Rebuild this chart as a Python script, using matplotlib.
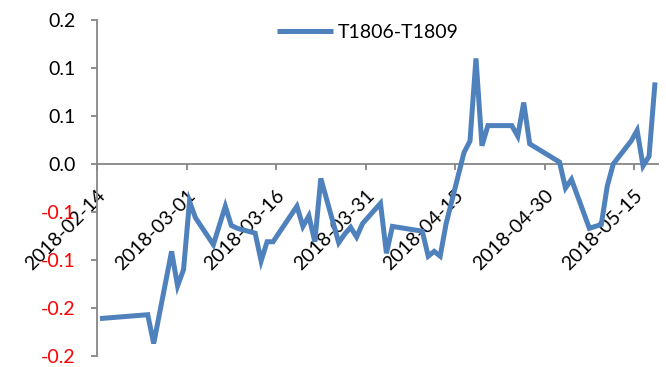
import datetime as dt

import matplotlib
matplotlib.use("Agg")
from matplotlib import pyplot as plt

# spread between T1806 and T1809, one value per trading day
dates = [
    "2018-02-14", "2018-02-22", "2018-02-23", "2018-02-26", "2018-02-27", "2018-02-28",
    "2018-03-01", "2018-03-02", "2018-03-05", "2018-03-07", "2018-03-08", "2018-03-09",
    "2018-03-12", "2018-03-13", "2018-03-14", "2018-03-15", "2018-03-19", "2018-03-20",
    "2018-03-21", "2018-03-22", "2018-03-23", "2018-03-26", "2018-03-27", "2018-03-28",
    "2018-03-29", "2018-03-30", "2018-04-02", "2018-04-03", "2018-04-04", "2018-04-09",
    "2018-04-10", "2018-04-11", "2018-04-12", "2018-04-13", "2018-04-16", "2018-04-17",
    "2018-04-18", "2018-04-19", "2018-04-20", "2018-04-23", "2018-04-24", "2018-04-25",
    "2018-04-26", "2018-04-27", "2018-05-02", "2018-05-03", "2018-05-04", "2018-05-07",
    "2018-05-08", "2018-05-09", "2018-05-10", "2018-05-11", "2018-05-14", "2018-05-15",
    "2018-05-16", "2018-05-17", "2018-05-18",
]
spread = [
    -0.161, -0.157, -0.187, -0.091, -0.127, -0.110,
    -0.039, -0.056, -0.084, -0.044, -0.064, -0.067,
    -0.072, -0.101, -0.081, -0.081, -0.044, -0.065,
    -0.054, -0.081, -0.015, -0.082, -0.073, -0.066,
    -0.076, -0.062, -0.041, -0.093, -0.065, -0.070,
    -0.096, -0.091, -0.096, -0.062, 0.012, 0.024,
    0.110, 0.019, 0.040, 0.040, 0.040, 0.029,
    0.064, 0.021, 0.002, -0.025, -0.016, -0.067,
    -0.065, -0.063, -0.023, 0.000, 0.024, 0.035,
    -0.002, 0.008, 0.085,
]
series_name = "T1806-T1809"

y_ticks = [-0.2, -0.15, -0.1, -0.05, 0.0, 0.05, 0.1, 0.15]
y_tick_labels = ["-0.2", "-0.2", "-0.1", "-0.1", "0.0", "0.1", "0.1", "0.2"]
x_tick_dates = ["2018-02-14", "2018-03-01", "2018-03-16", "2018-03-31",
                "2018-04-15", "2018-04-30", "2018-05-15"]

plt.rcParams["font.family"] = ["Lato", "DejaVu Sans"]

BLUE = "#4F81BD"
GREY = "#868686"

to_day = lambda s: dt.datetime.strptime(s, "%Y-%m-%d")
# each point sits in the middle of its day
x = [to_day(d) + dt.timedelta(hours=12) for d in dates]

fig = plt.figure(figsize=(6.66, 3.67), dpi=100)
ax = fig.add_axes([97 / 666, 1 - 356 / 367, (658 - 97) / 666, (356 - 20) / 367])

ax.plot(x, spread, color=BLUE, lw=3.6, solid_joinstyle="miter",
        solid_capstyle="butt", label=series_name, zorder=3)

ax.set_xlim(to_day("2018-02-14"), to_day("2018-05-19"))
ax.set_ylim(-0.2, 0.15)

# x axis runs through zero; do this before styling ticks (it resets them)
for side in ("top", "right"):
    ax.spines[side].set_visible(False)
ax.spines["bottom"].set_position(("data", 0))
for side in ("bottom", "left"):
    ax.spines[side].set_color(GREY)
    ax.spines[side].set_linewidth(1.3)

ax.set_yticks(y_ticks, labels=y_tick_labels, fontsize=14)
for lab, v in zip(ax.get_yticklabels(), y_ticks):
    lab.set_color("red" if v < 0 else "black")

ax.set_xticks([to_day(d) for d in x_tick_dates], labels=x_tick_dates,
              rotation=45, ha="right", va="top", rotation_mode="anchor",
              fontsize=14)

ax.tick_params(axis="both", color=GREY, width=1.3, length=4.5, direction="out")
ax.tick_params(axis="y", pad=11)
ax.tick_params(axis="x", pad=12)

ax.legend(loc="center", bbox_to_anchor=(368 / 666, 1 - 32 / 367),
          bbox_transform=fig.transFigure, frameon=False, fontsize=14,
          handlelength=2.9, handletextpad=0.25)

fig.savefig("out.png", dpi=100)
